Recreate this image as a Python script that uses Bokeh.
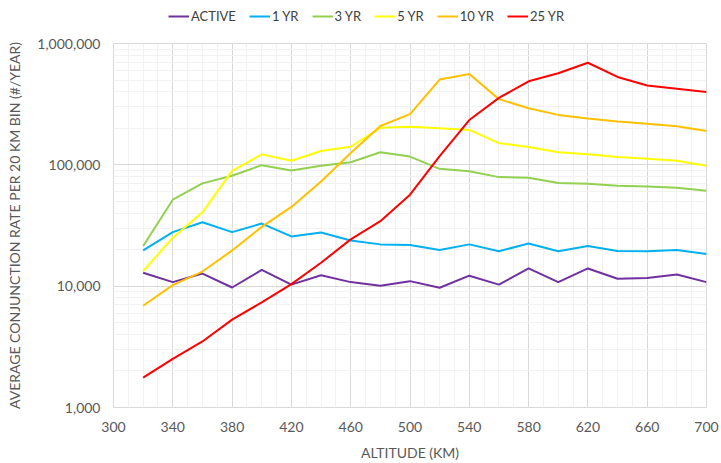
from bokeh.plotting import figure
from bokeh.layouts import column
from bokeh.models import (Legend, LegendItem, NumeralTickFormatter, FixedTicker,
                          Range1d)
from bokeh.embed import file_html
from bokeh.resources import INLINE

# ---- data ----
altitude = [320, 340, 360, 380, 400, 420, 440, 460, 480, 500,
            520, 540, 560, 580, 600, 620, 640, 660, 680, 700]
active = [12900, 10800, 12700, 9750, 13600, 10300, 12300, 10800, 10100, 11000,
          9700, 12200, 10300, 14000, 10800, 14000, 11500, 11700, 12500, 10800]
yr1 = [19700, 27900, 33600, 27900, 32800, 25700, 27700, 23800, 22100, 21800,
       19900, 22100, 19400, 22500, 19400, 21400, 19500, 19400, 19900, 18400]
yr3 = [21400, 51600, 70300, 81300, 99400, 89800, 98100, 105000, 127000, 117000,
       92700, 88700, 79200, 78200, 70800, 69900, 67300, 66400, 64700, 61200]
yr5 = [13300, 25100, 40600, 89200, 122000, 108000, 130000, 141000, 202000, 206000,
       200000, 194000, 151000, 140000, 127000, 122000, 116000, 112000, 108000, 98100]
yr10 = [6900, 10200, 13200, 19700, 30800, 45000, 73000, 125000, 209000, 262000,
        504000, 561000, 348000, 293000, 258000, 241000, 228000, 218000, 208000, 190000]
yr25 = [1760, 2520, 3500, 5300, 7350, 10400, 15600, 24300, 34300, 56700,
        118000, 234000, 356000, 488000, 568000, 694000, 530000, 450000, 423000, 399000]

series_names = ["ACTIVE", "1 YR", "3 YR", "5 YR", "10 YR", "25 YR"]
series_values = [active, yr1, yr3, yr5, yr10, yr25]
series_colors = ["#7030A0", "#00B0F0", "#92D050", "#FFFF00", "#FFC000", "#FF0000"]

x_ticks = [300, 340, 380, 420, 460, 500, 540, 580, 620, 660, 700]
x_minor = list(range(300, 701, 10))

x_title = "ALTITUDE (KM)"
y_title = "AVERAGE CONJUNCTION RATE PER 20 KM BIN (#/YEAR)"

FONT = "Lato"
GRAY = "#595959"

# ---- main chart ----
p = figure(width=721, height=428, y_axis_type="log",
           x_range=Range1d(300, 700), y_range=Range1d(1000, 1000000),
           output_backend="svg", toolbar_location=None,
           min_border_left=113, min_border_right=15,
           min_border_top=8, min_border_bottom=54)
p.title = None
p.outline_line_color = "#D9D9D9"
p.background_fill_color = "white"
p.border_fill_color = "white"

for vals, col in zip(series_values, series_colors):
    p.line(altitude, vals, line_color=col, line_width=2)

p.xaxis.ticker = FixedTicker(ticks=x_ticks, minor_ticks=x_minor)
p.yaxis.ticker.num_minor_ticks = 10
p.yaxis.formatter = NumeralTickFormatter(format="0,0")

for ax in (p.xaxis[0], p.yaxis[0]):
    ax.axis_line_color = None
    ax.major_tick_line_color = None
    ax.minor_tick_line_color = None
    ax.major_tick_out = 0
    ax.major_tick_in = 0
    ax.minor_tick_out = 0
    ax.minor_tick_in = 0
    ax.major_label_text_font = FONT
    ax.major_label_text_font_size = "14px"
    ax.major_label_text_color = GRAY
    ax.axis_label_text_font = FONT
    ax.axis_label_text_font_size = "14px"
    ax.axis_label_text_font_style = "normal"
    ax.axis_label_text_color = GRAY

p.xaxis.axis_label = x_title
p.yaxis.axis_label = y_title
p.xaxis.major_label_standoff = 14
p.xaxis.axis_label_standoff = 9
p.yaxis.major_label_standoff = 13
p.yaxis.axis_label_standoff = 11

p.xgrid.grid_line_color = "#D9D9D9"
p.ygrid.grid_line_color = "#D9D9D9"
p.xgrid.minor_grid_line_color = "#F2F2F2"
p.ygrid.minor_grid_line_color = "#F2F2F2"
p.xgrid.level = "underlay"
p.ygrid.level = "underlay"

# ---- legend strip on top ----
lg = figure(width=721, height=35, x_axis_type=None, y_axis_type=None,
            x_range=Range1d(0, 1), y_range=Range1d(0, 1),
            output_backend="svg", toolbar_location=None,
            min_border_left=0, min_border_right=0,
            min_border_top=0, min_border_bottom=0)
lg.title = None
lg.outline_line_color = None
lg.background_fill_color = "white"
lg.border_fill_color = "white"

nan = float("nan")
swatches = [lg.line(x=[nan], y=[nan], line_color=col, line_width=2)
            for col in series_colors]
legend = Legend(items=[LegendItem(label=n, renderers=[r])
                       for n, r in zip(series_names, swatches)],
                orientation="horizontal", location=(55, 11),
                glyph_width=21, glyph_height=16, label_height=16,
                label_standoff=2, spacing=13, padding=0, margin=0,
                label_text_font=FONT, label_text_font_size="13px",
                label_text_color="#404040",
                border_line_color=None, background_fill_alpha=0)
lg.add_layout(legend, "center")

layout = column(lg, p, spacing=0)
open("out.html", "w").write(file_html(layout, INLINE))
